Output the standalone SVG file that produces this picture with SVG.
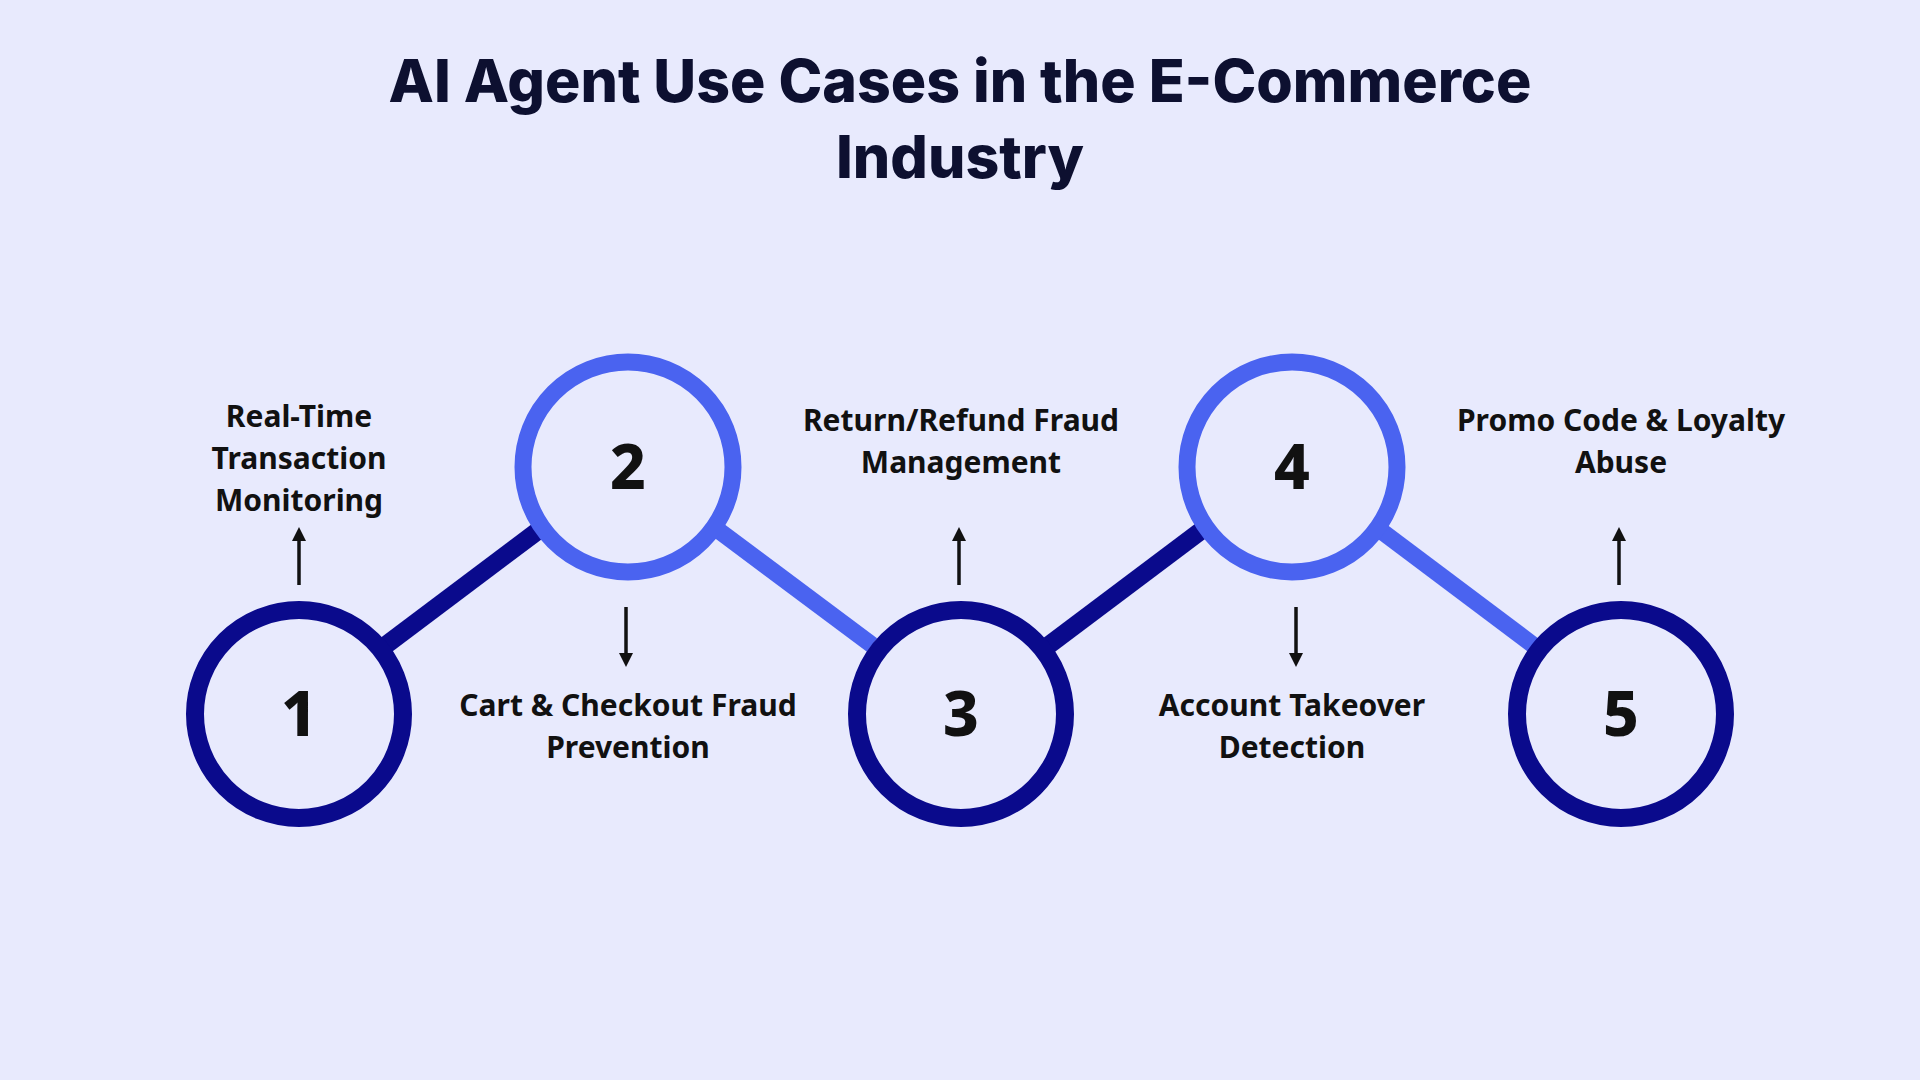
<svg xmlns="http://www.w3.org/2000/svg" width="1920" height="1080" viewBox="0 0 1920 1080">
<defs>
<marker id="ah" viewBox="0 0 10 10" refX="5" refY="5" markerWidth="4" markerHeight="4" orient="auto-start-reverse"><path d="M0,0 L10,5 L0,10 z" fill="#111"/></marker>
<style>
.t{font-family:Inter,"Noto Sans",sans-serif;font-weight:800;font-size:59px;fill:#0d1030;text-anchor:middle}
.l{font-family:"Noto Sans",Inter,sans-serif;font-weight:700;font-size:30px;fill:#111;text-anchor:middle}
.n{font-family:"Noto Sans",Inter,sans-serif;font-weight:800;font-size:62px;fill:#111;text-anchor:middle}
.cd{fill:none;stroke:#0a0a8c;stroke-width:18}
.cl{fill:none;stroke:#4a63f0;stroke-width:17}
.a{stroke:#111;stroke-width:3.5;marker-end:url(#ah)}
</style>
</defs>
<rect width="1920" height="1080" fill="#e8eafd"/>
<text class="t" x="960" y="102">AI Agent Use Cases in the E-Commerce</text>
<text class="t" x="960" y="178">Industry</text>
<g id="connectors">
<line class="cd" x1="386" y1="645" x2="539" y2="530"/>
<line class="cl" x1="718" y1="530" x2="872" y2="645"/>
<line class="cd" x1="1049" y1="645" x2="1202" y2="530"/>
<line class="cl" x1="1380" y1="530" x2="1533" y2="645"/>
<line class="a" x1="299" y1="585" x2="299" y2="534"/>
<line class="a" x1="626" y1="607" x2="626" y2="660"/>
<line class="a" x1="959" y1="585" x2="959" y2="534"/>
<line class="a" x1="1296" y1="607" x2="1296" y2="660"/>
<line class="a" x1="1619" y1="585" x2="1619" y2="534"/>
</g>
<g id="n1"><circle class="cd" cx="299" cy="714" r="104"/><text class="n" x="299" y="736">1</text>
<text class="l" x="299" y="427">Real-Time</text><text class="l" x="299" y="469">Transaction</text><text class="l" x="299" y="511">Monitoring</text></g>
<g id="n2"><circle class="cl" cx="628" cy="467" r="105"/><text class="n" x="628" y="489">2</text>
<text class="l" x="628" y="716">Cart &amp; Checkout Fraud</text><text class="l" x="628" y="758">Prevention</text></g>
<g id="n3"><circle class="cd" cx="961" cy="714" r="104"/><text class="n" x="961" y="736">3</text>
<text class="l" x="961" y="431">Return/Refund Fraud</text><text class="l" x="961" y="473">Management</text></g>
<g id="n4"><circle class="cl" cx="1292" cy="467" r="105"/><text class="n" x="1292" y="489">4</text>
<text class="l" x="1292" y="716">Account Takeover</text><text class="l" x="1292" y="758">Detection</text></g>
<g id="n5"><circle class="cd" cx="1621" cy="714" r="104"/><text class="n" x="1621" y="736">5</text>
<text class="l" x="1621" y="431">Promo Code &amp; Loyalty</text><text class="l" x="1621" y="473">Abuse</text></g>
</svg>
